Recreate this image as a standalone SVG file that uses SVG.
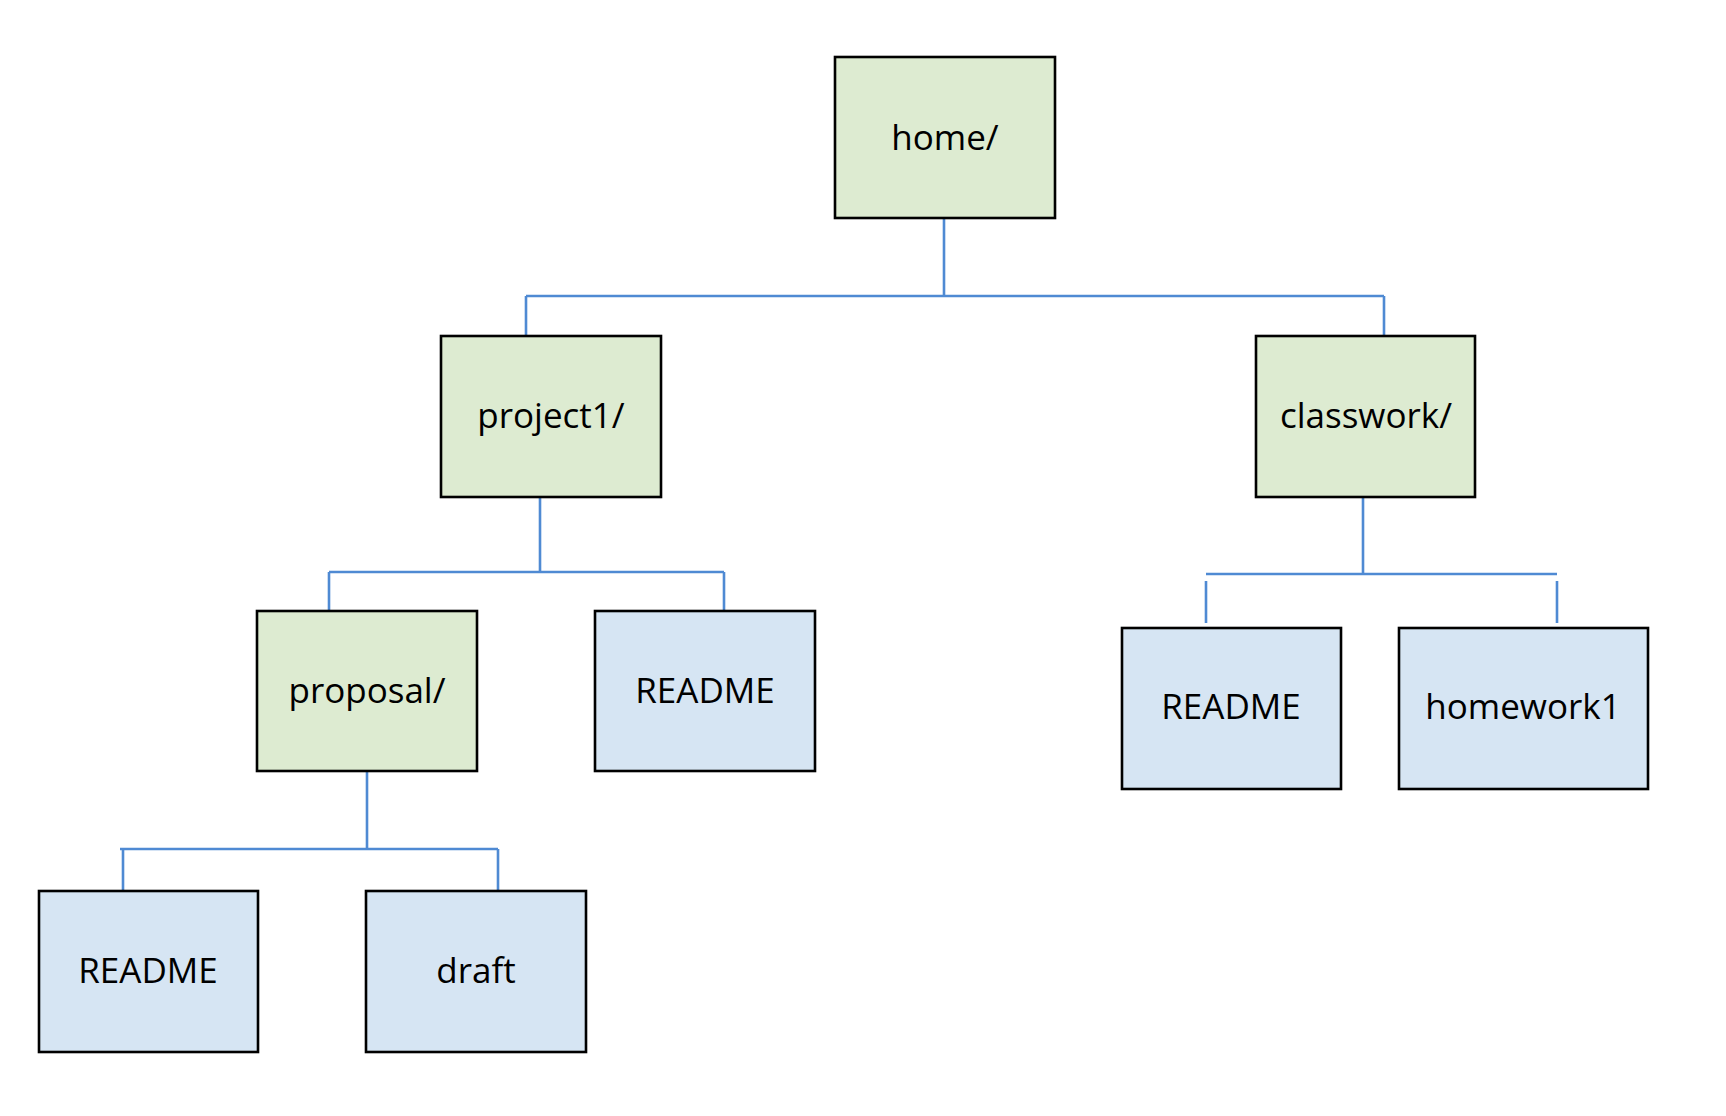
<svg xmlns="http://www.w3.org/2000/svg" width="1726" height="1116" viewBox="0 0 1726 1116">
<style>
.dir{fill:#DDEBD1;stroke:#000;stroke-width:2.6}
.file{fill:#D6E5F3;stroke:#000;stroke-width:2.6}
.lbl{font-family:"Open Sans","Noto Sans",sans-serif;font-size:35px;fill:#000;text-anchor:middle}
.conn{stroke:#4F8AD3;stroke-width:2.6;fill:none}
</style>
<rect width="1726" height="1116" fill="#fff"/>
<g id="connectors">
<path class="conn" d="M944 218V296M526 296H1384M526 296V336M1384 296V339"/>
<path class="conn" d="M540 497V572M329 572H724M329 572V610M724 572V615"/>
<path class="conn" d="M1363 497V574M1206 574H1557M1206 581V623M1557 581V623"/>
<path class="conn" d="M367 771V849M120 849H498M123 849V891M498 849V891"/>
</g>
<g id="home"><rect class="dir" x="835" y="57" width="220" height="161"/><text class="lbl" x="945" y="150">home/</text></g>
<g id="project1"><rect class="dir" x="441" y="336" width="220" height="161"/><text class="lbl" x="551" y="428">project1/</text></g>
<g id="classwork"><rect class="dir" x="1256" y="336" width="219" height="161"/><text class="lbl" x="1366" y="428">classwork/</text></g>
<g id="proposal"><rect class="dir" x="257" y="611" width="220" height="160"/><text class="lbl" x="367" y="703">proposal/</text></g>
<g id="readme-project1"><rect class="file" x="595" y="611" width="220" height="160"/><text class="lbl" x="705" y="703">README</text></g>
<g id="readme-classwork"><rect class="file" x="1122" y="628" width="219" height="161"/><text class="lbl" x="1231" y="719">README</text></g>
<g id="homework1"><rect class="file" x="1399" y="628" width="249" height="161"/><text class="lbl" x="1523" y="719">homework1</text></g>
<g id="readme-proposal"><rect class="file" x="39" y="891" width="219" height="161"/><text class="lbl" x="148" y="983">README</text></g>
<g id="draft"><rect class="file" x="366" y="891" width="220" height="161"/><text class="lbl" x="476" y="983">draft</text></g>
</svg>
